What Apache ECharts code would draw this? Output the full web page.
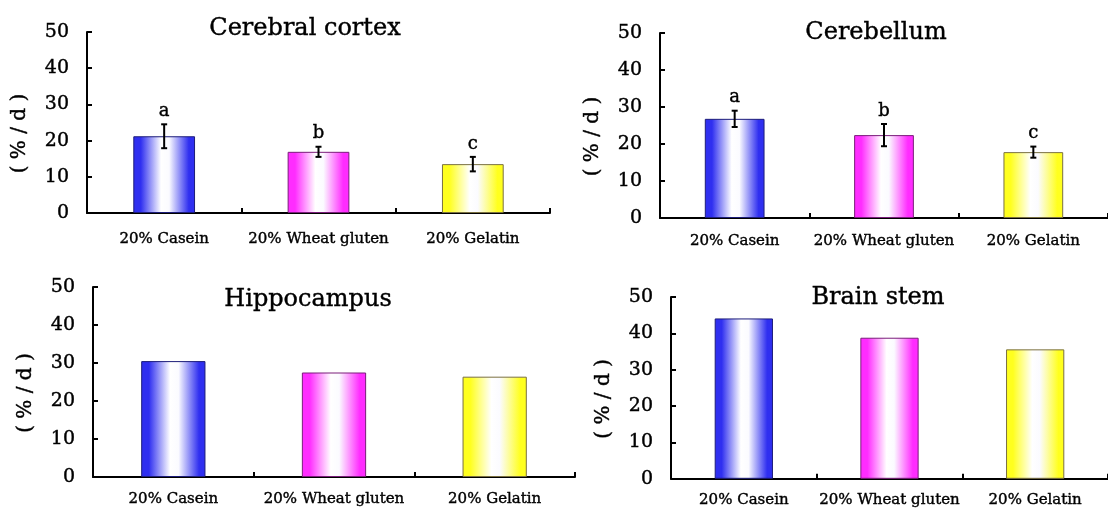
<!DOCTYPE html>
<html>
<head>
<meta charset="utf-8">
<script src="https://cdn.jsdelivr.net/npm/echarts@6/dist/echarts.min.js"></script>
<style>
html,body{margin:0;padding:0;background:#fff;}
#chart{width:1108px;height:508px;}
</style>
</head>
<body>
<div id="chart"></div>
<script>
// ---- data ----
const categories = ['20% Casein', '20% Wheat gluten', '20% Gelatin'];
const panelTitles = ['Cerebral cortex', 'Cerebellum', 'Hippocampus', 'Brain stem'];
const yAxisTitle = '( % / d )';
const yMin = 0, yMax = 50, yInterval = 10;

const cortexValues = [21.2, 16.9, 13.5];
const cortexErrors = [3.3, 1.4, 2.0];
const cortexLetters = ['a', 'b', 'c'];

const cerebellumValues = [26.8, 22.4, 17.8];
const cerebellumErrors = [2.2, 3.0, 1.5];
const cerebellumLetters = ['a', 'b', 'c'];

const hippocampusValues = [30.5, 27.5, 26.4];
const brainStemValues = [44.1, 38.8, 35.6];

// ---- styles ----
const FONT = '"DejaVu Serif", "Liberation Serif", serif';
function grad(c) {
  return new echarts.graphic.LinearGradient(0, 0, 1, 0, [
    { offset: 0, color: c },
    { offset: 0.12, color: c },
    { offset: 0.45, color: '#ffffff' },
    { offset: 0.58, color: '#fbfbff' },
    { offset: 0.9, color: c },
    { offset: 1, color: c }
  ]);
}
const barFills = [grad('#2f2ff0'), grad('#ff2cff'), grad('#ffff1e')];
const barBorders = ['#1c1c7a', '#7a1c7a', '#7a7040'];
const heavy = { textBorderColor: '#000', textBorderWidth: 0.4 };

const grids = [
  { left: 87, top: 32, width: 463, height: 181 },
  { left: 660, top: 33, width: 456, height: 185 },
  { left: 93, top: 287, width: 482, height: 190 },
  { left: 671, top: 297, width: 444, height: 183 }
];
const labelMargins = [19, 16, 15, 14];
const titlePos = [[305, 29], [876, 33], [308, 300], [878, 298]];

const panelValues = [cortexValues, cerebellumValues, hippocampusValues, brainStemValues];
const panelErrors = [cortexErrors, cerebellumErrors, null, null];
const panelLetters = [cortexLetters, cerebellumLetters, null, null];

const option = {
  backgroundColor: '#ffffff',
  animation: false,
  grid: grids,
  xAxis: grids.map((g, i) => ({
    type: 'category', gridIndex: i, data: categories,
    axisLine: { lineStyle: { color: '#000', width: 2 } },
    axisTick: { show: true, inside: true, length: 5, lineStyle: { color: '#000', width: 2 } },
    axisLabel: Object.assign({ color: '#000', fontFamily: FONT, fontSize: 15, margin: labelMargins[i], interval: 0 }, heavy)
  })),
  yAxis: grids.map((g, i) => ({
    type: 'value', gridIndex: i, min: yMin, max: yMax, interval: yInterval,
    name: yAxisTitle, nameLocation: 'middle', nameRotate: 90, nameGap: 57,
    nameTextStyle: Object.assign({ color: '#000', fontFamily: FONT, fontSize: 20, padding: [0, 22, 0, 0] }, heavy),
    axisLine: { show: true, lineStyle: { color: '#000', width: 2 } },
    axisTick: { show: true, inside: true, length: 5, lineStyle: { color: '#000', width: 2 } },
    axisLabel: Object.assign({ color: '#000', fontFamily: FONT, fontSize: 19, margin: 18 }, heavy),
    splitLine: { show: false }
  })),
  graphic: panelTitles.map((t, i) => ({
    type: 'text', x: titlePos[i][0], y: titlePos[i][1],
    style: { text: t, font: '24px ' + FONT, fill: '#000', stroke: '#000', lineWidth: 0.4, textAlign: 'center', textVerticalAlign: 'middle' }
  })),
  series: []
};

panelValues.forEach((vals, i) => {
  option.series.push({
    type: 'bar', xAxisIndex: i, yAxisIndex: i, barWidth: '40%',
    data: vals.map((v, k) => ({
      value: v,
      itemStyle: { color: barFills[k], borderColor: barBorders[k], borderWidth: 1 }
    }))
  });
  if (panelErrors[i]) {
    const errs = panelErrors[i], letters = panelLetters[i];
    option.series.push({
      type: 'custom', xAxisIndex: i, yAxisIndex: i,
      data: vals.map((v, k) => [k, v, errs[k], letters[k]]),
      encode: { x: 0, y: 1 },
      z: 5,
      renderItem: function (params, api) {
        const x = api.value(0), v = api.value(1), e = api.value(2);
        const top = api.coord([x, v + e]);
        const bot = api.coord([x, v - e]);
        const cw = 3;
        const ls = { stroke: '#000', lineWidth: 2 };
        return {
          type: 'group',
          children: [
            { type: 'line', shape: { x1: top[0], y1: top[1], x2: bot[0], y2: bot[1] }, style: ls },
            { type: 'line', shape: { x1: top[0] - cw, y1: top[1], x2: top[0] + cw, y2: top[1] }, style: ls },
            { type: 'line', shape: { x1: bot[0] - cw, y1: bot[1], x2: bot[0] + cw, y2: bot[1] }, style: ls },
            { type: 'text', x: top[0], y: top[1] - 4,
              style: { text: letters[params.dataIndex], font: '18px ' + FONT, fill: '#000', stroke: '#000', lineWidth: 0.4, textAlign: 'center', textVerticalAlign: 'bottom' } }
          ]
        };
      }
    });
  }
});

const chart = echarts.init(document.getElementById('chart'), null, { renderer: 'canvas' });
chart.setOption(option);
</script>
</body>
</html>
